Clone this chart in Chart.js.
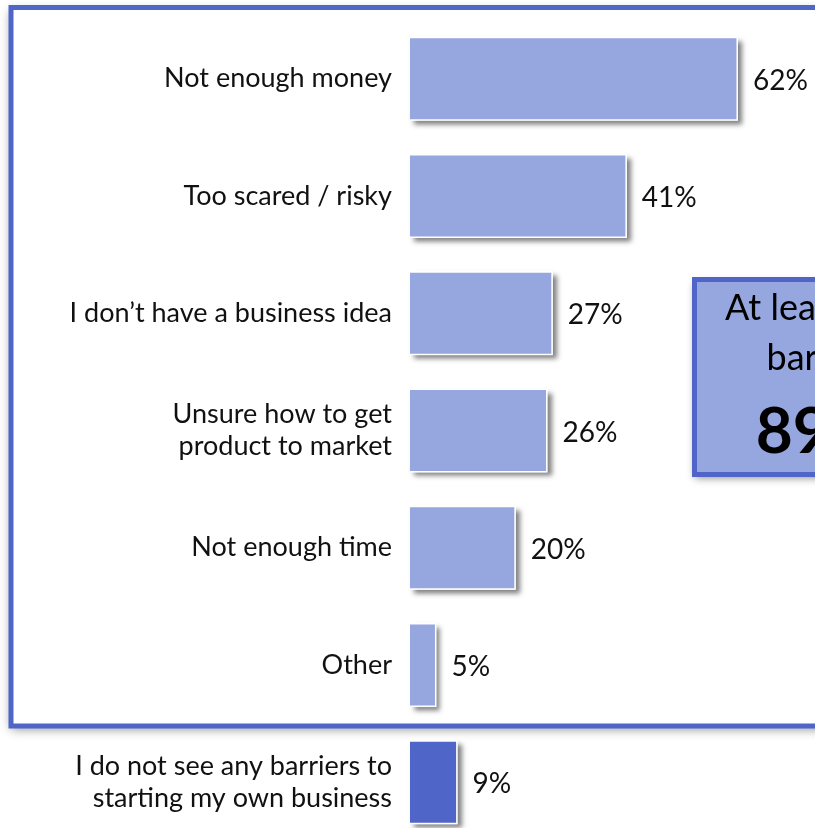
<!DOCTYPE html>
<html>
<head>
<meta charset="utf-8">
<title>Barriers to starting a business</title>
<script src="https://cdn.jsdelivr.net/npm/chart.js@4.4.1/dist/chart.umd.min.js"></script>
<style>
  html, body { margin: 0; padding: 0; background: #fff; overflow: hidden; }
  #chart { display: block; }
</style>
</head>
<body>
<canvas id="chart" width="815" height="850"></canvas>
<script>
// survey answers, top to bottom
const categories = [
  'Not enough money',
  'Too scared / risky',
  'I don’t have a business idea',
  ['Unsure how to get', 'product to market'],
  'Not enough time',
  'Other',
  ['I do not see any barriers to', 'starting my own business']
];
const shares = [62, 41, 27, 26, 20, 5, 9];
const barColors = ['#96a6df', '#96a6df', '#96a6df', '#96a6df', '#96a6df', '#96a6df', '#4f66c8'];

// callout box text
const calloutLines = ['At least one', 'barrier'];
const calloutValue = '89%';

const FONT = 'Lato, "Noto Sans", sans-serif';

// blue frame round the barrier answers, with a soft shadow
const framePlugin = {
  id: 'frame',
  beforeDraw(chart) {
    const ctx = chart.ctx;
    ctx.save();
    ctx.shadowColor = 'rgba(0,0,0,0.45)';
    ctx.shadowBlur = 10;
    ctx.shadowOffsetY = 3;
    ctx.fillStyle = '#fff';
    ctx.fillRect(11, 7.5, 900, 718.5);
    ctx.restore();
    ctx.save();
    ctx.strokeStyle = '#4f66c8';
    ctx.lineWidth = 5;
    ctx.strokeRect(11, 7.5, 900, 718.5);
    ctx.restore();
  }
};

// drop shadows under each bar
const barShadow = {
  id: 'barShadow',
  beforeDatasetsDraw(chart) {
    const ctx = chart.ctx;
    const meta = chart.getDatasetMeta(0);
    ctx.save();
    ctx.shadowColor = 'rgba(0,0,0,0.5)';
    ctx.shadowBlur = 5;
    ctx.shadowOffsetX = 4;
    ctx.shadowOffsetY = 4;
    ctx.fillStyle = '#fff';
    meta.data.forEach(bar => {
      const h = bar.height;
      ctx.fillRect(bar.base, bar.y - h / 2, bar.x - bar.base, h);
    });
    ctx.restore();
  }
};

// percentage next to each bar
const valueLabels = {
  id: 'valueLabels',
  afterDatasetsDraw(chart) {
    const ctx = chart.ctx;
    const meta = chart.getDatasetMeta(0);
    ctx.save();
    ctx.font = '28px ' + FONT;
    ctx.fillStyle = '#111';
    ctx.textAlign = 'left';
    ctx.textBaseline = 'middle';
    meta.data.forEach((bar, i) => {
      ctx.fillText(shares[i] + '%', bar.x + 15, bar.y + 2);
    });
    ctx.restore();
  }
};

// "at least one barrier" box on the right
const callout = {
  id: 'callout',
  afterDraw(chart) {
    const ctx = chart.ctx;
    ctx.save();
    ctx.shadowColor = 'rgba(0,0,0,0.45)';
    ctx.shadowBlur = 8;
    ctx.shadowOffsetY = 3;
    ctx.fillStyle = '#96a6df';
    ctx.fillRect(694.5, 279.5, 300, 195);
    ctx.restore();
    ctx.save();
    ctx.strokeStyle = '#4f66c8';
    ctx.lineWidth = 5;
    ctx.strokeRect(694.5, 279.5, 300, 195);
    ctx.fillStyle = '#000';
    ctx.textAlign = 'center';
    ctx.textBaseline = 'alphabetic';
    ctx.font = '36px ' + FONT;
    ctx.fillText(calloutLines[0], 819, 320);
    ctx.fillText(calloutLines[1], 819, 370);
    ctx.font = 'bold 64px ' + FONT;
    ctx.fillText(calloutValue, 819, 453);
    ctx.restore();
  }
};

new Chart(document.getElementById('chart'), {
  type: 'bar',
  data: {
    labels: categories,
    datasets: [{
      data: shares,
      backgroundColor: barColors,
      borderColor: '#fff',
      borderWidth: 1.5,
      categoryPercentage: 1,
      barPercentage: 0.716
    }]
  },
  options: {
    indexAxis: 'y',
    responsive: false,
    animation: false,
    layout: { padding: { top: 20, right: 3, bottom: 9, left: 0 } },
    plugins: {
      legend: { display: false },
      tooltip: { enabled: false }
    },
    scales: {
      x: {
        display: false,
        min: 0,
        max: 76
      },
      y: {
        grid: { display: false },
        border: { display: false },
        ticks: {
          color: '#111',
          padding: 10,
          font: { family: FONT, size: 27 }
        },
        afterFit(scale) {
          scale.width = 410;
          scale.paddingTop = 0;
          scale.paddingBottom = 0;
        }
      }
    }
  },
  plugins: [framePlugin, barShadow, valueLabels, callout]
});
</script>
</body>
</html>
